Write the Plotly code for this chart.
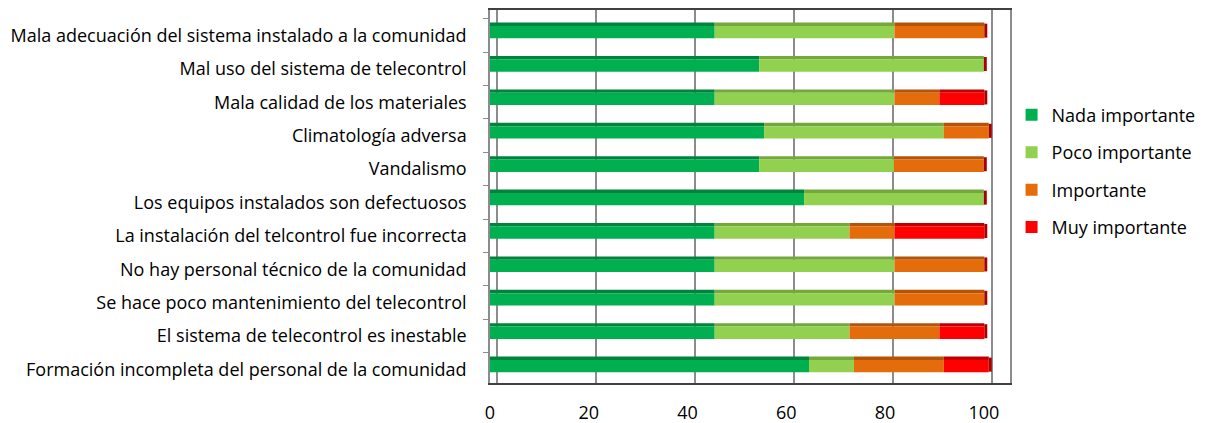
import numpy as np
import plotly.graph_objects as go

categories = [
    "Mala adecuación del sistema instalado a la comunidad",
    "Mal uso del sistema de telecontrol",
    "Mala calidad de los materiales",
    "Climatología adversa",
    "Vandalismo",
    "Los equipos instalados son defectuosos",
    "La instalación del telcontrol fue incorrecta",
    "No hay personal técnico de la comunidad",
    "Se hace poco mantenimiento del telecontrol",
    "El sistema de telecontrol es inestable",
    "Formación incompleta del personal de la comunidad",
]
series_names = ["Nada importante", "Poco importante", "Importante", "Muy importante"]
nada = [45.5, 54.5, 45.5, 55.5, 54.5, 63.6, 45.5, 45.5, 45.5, 45.5, 64.6]
poco = [36.4, 45.5, 36.4, 36.4, 27.3, 36.4, 27.3, 36.4, 36.4, 27.3, 9.1]
importante = [18.2, 0.0, 9.1, 9.1, 18.2, 0.0, 9.1, 18.2, 18.2, 18.2, 18.2]
muy = [0.0, 0.0, 9.1, 0.0, 0.0, 0.0, 18.2, 0.0, 0.0, 9.1, 9.1]
x_ticks = [0, 20, 40, 60, 80, 100]

front_colors = ["#00B050", "#92D050", "#E46C0A", "#FF0000"]
top_colors = ["#00843C", "#74A83C", "#B45408", "#C00000"]
FONT = "Open Sans"

values = np.array([nada, poco, importante, muy])
bases = np.vstack([np.zeros(len(categories)), np.cumsum(values, axis=0)[:-1]])
totals = values.sum(axis=0)

fig = go.Figure()
for i, name in enumerate(series_names):
    # top face (3D look)
    fig.add_trace(go.Bar(
        y=categories, x=values[i], base=bases[i], orientation="h",
        width=0.1, offset=-0.385, marker=dict(color=top_colors[i], line=dict(width=0)),
        showlegend=False, hoverinfo="skip", legendgroup=name,
    ))
    # front face
    fig.add_trace(go.Bar(
        y=categories, x=values[i], base=bases[i], orientation="h", name=name,
        width=0.37, offset=-0.285, marker=dict(color=front_colors[i], line=dict(width=0)),
        legendgroup=name,
    ))
# right side face of each stack
fig.add_trace(go.Bar(
    y=categories, x=[0.6] * len(categories), base=totals, orientation="h",
    width=0.42, offset=-0.355, marker=dict(color="#A80000", line=dict(width=0)),
    showlegend=False, hoverinfo="skip",
))
# invisible trace carrying the back-wall grid axis
fig.add_trace(go.Bar(
    y=categories, x=nada, orientation="h", xaxis="x2", opacity=0,
    showlegend=False, hoverinfo="skip",
))

fig.update_layout(
    width=1210, height=423,
    margin=dict(l=490, r=200, t=10, b=40, autoexpand=False),
    paper_bgcolor="white", plot_bgcolor="white",
    barmode="overlay",
    font=dict(family=FONT, size=18, color="#000000"),
    xaxis=dict(
        range=[0, 105.3], tickvals=x_ticks, ticktext=[str(v) for v in x_ticks],
        showgrid=False, zeroline=False, showline=True, linecolor="#404040",
        linewidth=1.5, mirror=True, ticks="", tickfont=dict(size=18),
        ticklabelstandoff=13, automargin=False,
    ),
    xaxis2=dict(
        overlaying="x", range=[-1.41, 103.64], tickvals=x_ticks, showticklabels=False,
        showgrid=True, gridcolor="#8C8C8C", gridwidth=2, zeroline=False, ticks="",
        showline=False, automargin=False,
    ),
    yaxis=dict(
        range=[10.405, -0.763], showgrid=False, zeroline=False,
        showline=True, linecolor="#8C8C8C", linewidth=1.5, mirror=True,
        ticks="outside", tickson="boundaries", ticklen=5, tickcolor="#8C8C8C",
        ticklabelstandoff=18, tickfont=dict(size=18), automargin=False,
    ),
    legend=dict(
        x=1.003, y=0.568, xanchor="left", yanchor="middle",
        traceorder="grouped", tracegroupgap=11, font=dict(size=18),
        bgcolor="rgba(0,0,0,0)",
    ),
    showlegend=True,
)

fig.write_html("out.html")
